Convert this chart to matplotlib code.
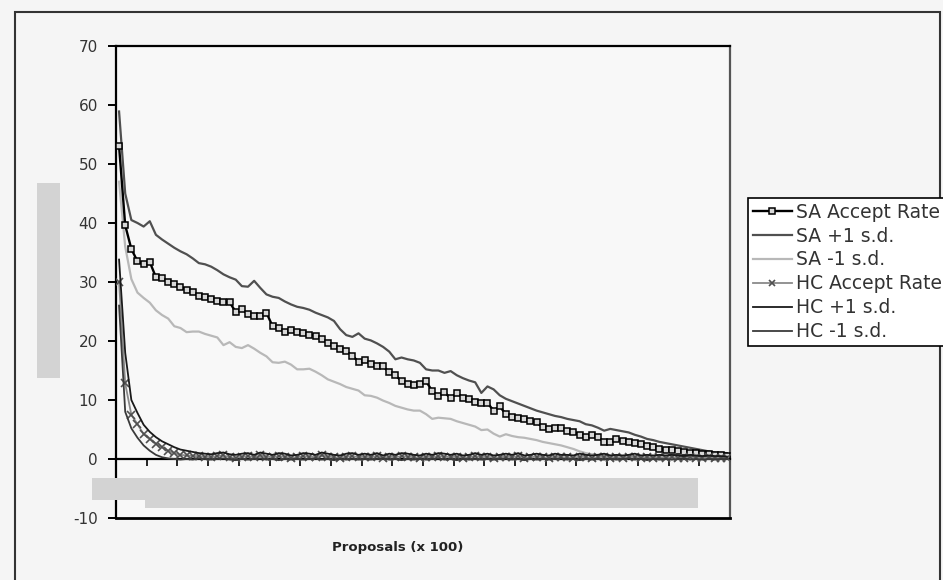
import numpy as np
import matplotlib
matplotlib.use("Agg")
import matplotlib.pyplot as plt
from matplotlib.patches import Rectangle

# ---- data (acceptance rate, %) ----
sa_accept = [
    53.0, 39.6, 35.6, 33.5, 33.0, 33.4, 30.8, 30.7, 30.0, 29.6,
    29.2, 28.7, 28.3, 27.6, 27.4, 27.2, 26.8, 26.6, 26.6, 24.9,
    25.5, 24.5, 24.3, 24.2, 24.8, 22.5, 22.2, 21.5, 21.9, 21.6,
    21.3, 21.1, 20.9, 20.3, 19.6, 19.1, 18.7, 18.3, 17.5, 16.5,
    16.7, 16.1, 15.8, 15.7, 14.7, 14.2, 13.2, 12.7, 12.6, 12.7,
    13.2, 11.5, 10.7, 11.3, 10.3, 11.2, 10.4, 10.1, 9.7, 9.5,
    9.5, 8.2, 8.9, 7.6, 7.2, 7.0, 6.8, 6.5, 6.2, 5.4,
    5.1, 5.2, 5.2, 4.8, 4.6, 4.1, 3.7, 4.1, 3.7, 2.9,
    2.8, 3.4, 3.1, 2.8, 2.7, 2.5, 2.2, 2.0, 1.7, 1.6,
    1.5, 1.4, 1.2, 1.1, 1.0, 0.85, 0.8, 0.7, 0.6, 0.5,
]
sa_plus = [
    58.9, 45.0, 40.5, 40.0, 39.4, 40.3, 38.0, 37.2, 36.5, 35.8,
    35.2, 34.7, 34.0, 33.2, 33.0, 32.6, 32.0, 31.3, 30.8, 30.4,
    29.3, 29.2, 30.2, 29.0, 27.9, 27.5, 27.3, 26.7, 26.2, 25.8,
    25.6, 25.3, 24.8, 24.4, 24.0, 23.4, 22.0, 21.0, 20.7, 21.3,
    20.4, 20.1, 19.6, 19.0, 18.2, 16.9, 17.2, 16.9, 16.7, 16.3,
    15.2, 15.0, 15.0, 14.6, 14.9, 14.2, 13.7, 13.3, 13.0, 11.2,
    12.3, 11.8, 10.8, 10.2, 9.8, 9.4, 9.0, 8.6, 8.2, 7.9,
    7.6, 7.3, 7.1, 6.8, 6.6, 6.4, 5.9, 5.7, 5.3, 4.8,
    5.1, 4.9, 4.7, 4.5, 4.1, 3.8, 3.4, 3.2, 2.9, 2.7,
    2.5, 2.3, 2.1, 1.9, 1.7, 1.5, 1.3, 1.1, 1.05, 1.0,
]
sa_minus = [
    47.0, 36.0, 30.5, 28.2, 27.3, 26.5, 25.2, 24.4, 23.8, 22.5,
    22.2, 21.5, 21.6, 21.6, 21.2, 20.9, 20.6, 19.3, 19.8, 19.0,
    18.8, 19.3, 18.7, 18.0, 17.4, 16.4, 16.3, 16.5, 16.0, 15.2,
    15.2, 15.3, 14.8, 14.2, 13.5, 13.1, 12.7, 12.2, 11.9, 11.6,
    10.8, 10.7, 10.4, 9.9, 9.5, 9.0, 8.7, 8.4, 8.2, 8.2,
    7.6, 6.8, 7.0, 6.9, 6.8, 6.4, 6.1, 5.8, 5.5, 4.9,
    5.0, 4.3, 3.8, 4.2, 3.9, 3.7, 3.6, 3.4, 3.2, 2.9,
    2.7, 2.5, 2.3, 2.0, 1.7, 1.3, 1.0, 0.8, 0.7, 0.7,
    0.6, 0.5, 0.5, 0.4, 0.4, 0.4, 0.3, 0.3, 0.3, 0.3,
    0.2, 0.2, 0.2, 0.2, 0.2, 0.1, 0.1, 0.1, 0.1, 0.1,
]
hc_accept = [
    30.0, 12.8, 7.5, 5.9, 4.2, 3.4, 2.6, 2.0, 1.4, 1.0,
    0.7, 0.6, 0.5, 0.5, 0.4, 0.3, 0.5, 0.6, 0.3, 0.2,
    0.4, 0.5, 0.3, 0.6, 0.4, 0.3, 0.5, 0.4, 0.2, 0.3,
    0.5, 0.4, 0.3, 0.6, 0.4, 0.3, 0.2, 0.4, 0.5, 0.3,
    0.4, 0.3, 0.5, 0.2, 0.4, 0.3, 0.5, 0.4, 0.3, 0.2,
    0.4, 0.3, 0.5, 0.4, 0.3, 0.4, 0.2, 0.3, 0.5, 0.3,
    0.4, 0.2, 0.3, 0.4, 0.3, 0.5, 0.2, 0.3, 0.4, 0.3,
    0.2, 0.4, 0.3, 0.3, 0.2, 0.4, 0.3, 0.2, 0.3, 0.4,
    0.2, 0.3, 0.2, 0.3, 0.4, 0.2, 0.3, 0.2, 0.3, 0.2,
    0.3, 0.2, 0.2, 0.3, 0.2, 0.2, 0.3, 0.2, 0.2, 0.1,
]
hc_plus = [
    33.8, 18.0, 10.0, 7.8, 5.8, 4.6, 3.7, 3.0, 2.5, 2.0,
    1.6, 1.4, 1.2, 1.0, 0.9, 0.8, 1.0, 1.1, 0.8, 0.7,
    0.9, 1.0, 0.7, 1.1, 0.9, 0.7, 1.0, 0.9, 0.6, 0.7,
    1.0, 0.9, 0.7, 1.1, 0.9, 0.7, 0.6, 0.9, 1.0, 0.7,
    0.9, 0.7, 1.0, 0.6, 0.9, 0.7, 1.0, 0.9, 0.7, 0.6,
    0.9, 0.7, 1.0, 0.9, 0.7, 0.9, 0.6, 0.7, 1.0, 0.7,
    0.9, 0.6, 0.7, 0.9, 0.7, 1.0, 0.6, 0.7, 0.9, 0.7,
    0.6, 0.9, 0.7, 0.7, 0.6, 0.9, 0.7, 0.6, 0.7, 0.9,
    0.6, 0.7, 0.6, 0.7, 0.9, 0.6, 0.7, 0.6, 0.7, 0.6,
    0.7, 0.6, 0.5, 0.7, 0.6, 0.5, 0.6, 0.5, 0.5, 0.4,
]
hc_minus = [
    26.0, 8.0, 5.2, 3.6, 2.3, 1.4, 0.7, 0.3, 0.1, 0.0,
    -0.1, 0.0, -0.1, 0.1, 0.0, -0.1, 0.0, 0.1, -0.1, -0.2,
    0.0, -0.1, 0.0, 0.1, -0.1, 0.0, -0.2, 0.0, -0.1, 0.0,
    -0.1, 0.0, 0.1, -0.1, 0.0, -0.2, 0.0, -0.1, 0.0, -0.1,
    0.0, -0.1, 0.0, 0.1, -0.1, 0.0, -0.2, 0.0, -0.1, 0.0,
    -0.1, 0.0, 0.1, -0.1, 0.0, -0.2, 0.0, -0.1, 0.0, -0.1,
    0.0, -0.1, 0.0, 0.1, -0.1, 0.0, -0.2, 0.0, -0.1, 0.0,
    -0.1, 0.0, 0.1, -0.1, 0.0, -0.2, 0.0, -0.1, 0.0, -0.1,
    0.0, -0.1, 0.0, 0.1, -0.1, 0.0, -0.2, 0.0, -0.1, 0.0,
    -0.1, 0.0, 0.1, -0.1, 0.0, -0.1, 0.0, -0.1, 0.0, 0.0,
]
series_labels = ["SA Accept Rate", "SA +1 s.d.", "SA -1 s.d.",
                 "HC Accept Rate", "HC +1 s.d.", "HC -1 s.d."]
y_ticks = [-10, 0, 10, 20, 30, 40, 50, 60, 70]
x_title = "Proposals (x 100)"

W, H = 943, 580
plt.rcParams["font.family"] = ["DejaVu Sans"]
fig = plt.figure(figsize=(W / 100, H / 100), dpi=100, facecolor="#f5f5f5")


def px_box(x0, y0, x1, y1):
    """Convert a pixel box (top-left origin) to figure fractions."""
    return (x0 / W, 1 - y1 / H, (x1 - x0) / W, (y1 - y0) / H)


l, b, w, h = px_box(116, 46, 730, 518)
ax = fig.add_axes([l, b, w, h], facecolor="#f8f8f8")

x = np.arange(len(sa_accept))

ax.plot(x, sa_accept, color="black", lw=1.7, marker="s", ms=5,
        mfc="#d8d8d8", mec="black", mew=1.1, label=series_labels[0], zorder=4)
ax.plot(x, sa_plus, color="#505050", lw=1.6, label=series_labels[1], zorder=3)
ax.plot(x, sa_minus, color="#b8b8b8", lw=1.6, label=series_labels[2], zorder=3)
ax.plot(x, hc_accept, color="#8a8a8a", lw=1.3, marker="x", ms=5.5,
        mec="#505050", mew=1.2, label=series_labels[3], zorder=5)
ax.plot(x, hc_plus, color="#1a1a1a", lw=1.3, label=series_labels[4], zorder=5)
ax.plot(x, hc_minus, color="#3a3a3a", lw=1.3, label=series_labels[5], zorder=5)

ax.set_xlim(-0.5, len(x) - 0.5)
ax.set_ylim(-10, 70)
ax.set_yticks(y_ticks)
ax.set_yticklabels([str(v) for v in y_ticks], fontsize=11, color="#333333")
ax.tick_params(axis="y", direction="out", length=6, width=1.4, pad=7,
               color="black")

# category axis crosses at zero, tick marks between every 5 categories
ax.spines["bottom"].set_position(("data", 0))
ax.spines["bottom"].set_linewidth(1.6)
ax.set_xticks(np.arange(-0.5, len(x), 5))
ax.set_xticklabels([])
ax.tick_params(axis="x", direction="out", length=5, width=1.2, color="black")
for s in ("left", "top", "right"):
    ax.spines[s].set_linewidth(1.6)
    ax.spines[s].set_color("black")
ax.spines["right"].set_color("#555555")
ax.axhline(-10, color="black", lw=2.0, clip_on=False, zorder=6)

# category axis title
fig.text(398 / W, 1 - 548 / H, x_title, ha="center", va="center",
         fontsize=9.5, fontweight="bold", color="#222222")

# legend box, running past the right edge of the chart area
leg = fig.legend(loc="upper left", bbox_to_anchor=(748 / W, 1 - 198 / H),
                 bbox_transform=fig.transFigure, fontsize=13.5, frameon=True,
                 fancybox=False, edgecolor="black", facecolor="white",
                 framealpha=1.0, handlelength=2.1, handletextpad=0.2,
                 labelspacing=0.26, borderpad=0.25, borderaxespad=0.0,
                 markerscale=0.85)
leg.get_frame().set_linewidth(1.2)
for t in leg.get_texts():
    t.set_color("#333333")

# shaded blocks over the axis labels
for box in [(37, 183, 60, 378), (92, 478, 698, 500), (145, 500, 698, 508)]:
    fig.patches.append(Rectangle(px_box(*box)[:2], *px_box(*box)[2:],
                                 transform=fig.transFigure, facecolor="#d3d3d3",
                                 edgecolor="none", zorder=10))

# outer chart border
fig.patches.append(Rectangle(px_box(15, 12, 940, 600)[:2],
                             *px_box(15, 12, 940, 600)[2:],
                             transform=fig.transFigure, fill=False,
                             edgecolor="#333333", lw=1.5, zorder=0))

fig.savefig("out.png", dpi=100, facecolor=fig.get_facecolor())
